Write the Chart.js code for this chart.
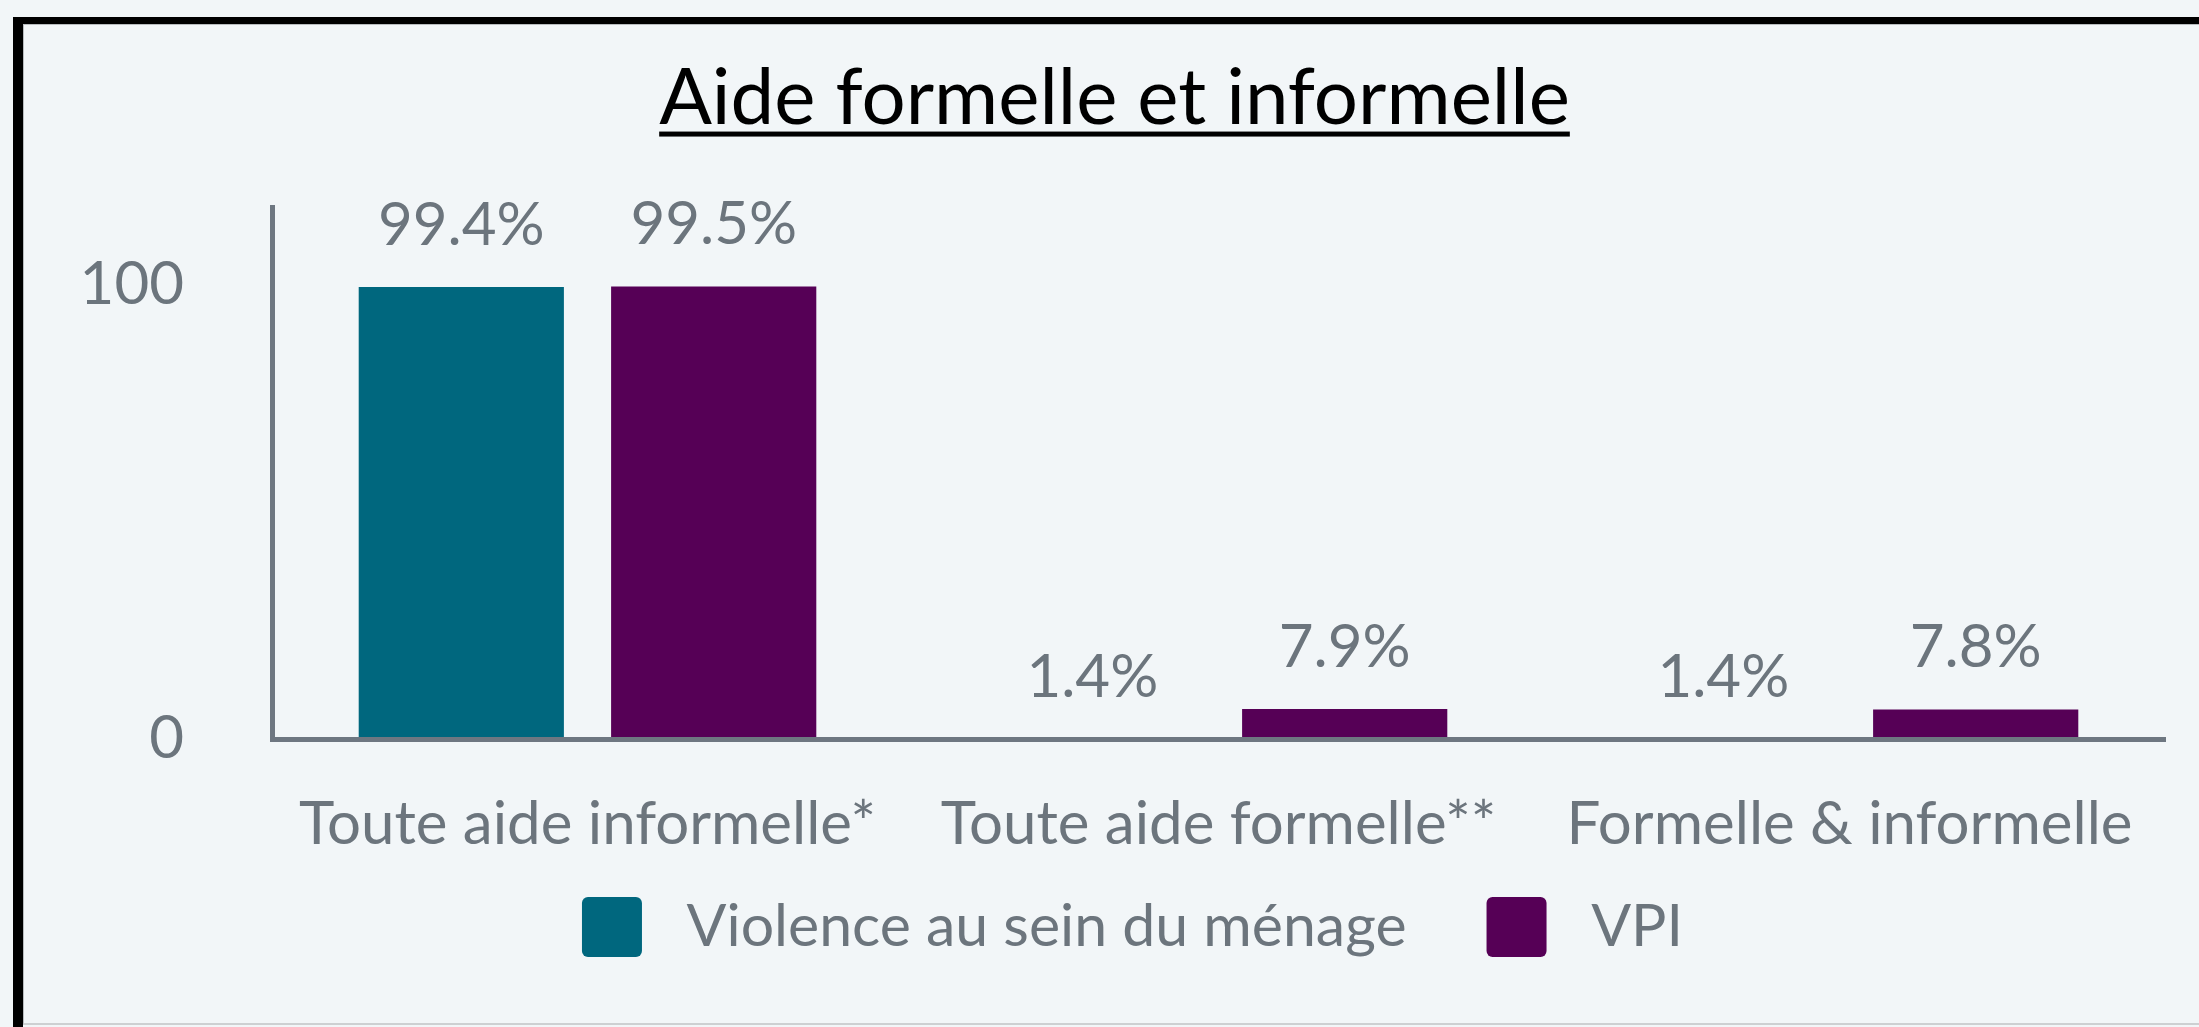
<!DOCTYPE html>
<html>
<head>
<meta charset="utf-8">
<title>Aide formelle et informelle</title>
<script src="https://cdn.jsdelivr.net/npm/chart.js@4.4.1/dist/chart.umd.min.js"></script>
<style>
  html, body { margin: 0; padding: 0; background: #f2f6f8; overflow: hidden; }
  #frame { position: absolute; left: 13px; top: 17px; width: 2400px; height: 1100px;
           border-left: 10px solid #000; border-top: 7px solid #000; }
  #panel { position: absolute; left: 0; top: 0; width: 2400px; height: 998px;
           border-top: 1px solid #b8bcbf; border-left: 1px solid #b8bcbf; border-bottom: 2px solid #cdd0d2; }
  #chart { position: absolute; left: 0; top: 0; }
</style>
</head>
<body>
<div id="frame"><div id="panel"><canvas id="chart" width="2175" height="998"></canvas></div></div>
<script>
// data
const categories = ['Toute aide informelle*', 'Toute aide formelle**', 'Formelle & informelle'];
const seriesNames = ['Violence au sein du ménage', 'VPI'];
const menage = [99.4, 1.4, 1.4];
const vpi = [99.5, 7.9, 7.8];
// the value axis in the source starts at 1.4 (the 1.4% bars have no height), labelled "0"
const yTickValues = [1.4, 100];
const yTickLabels = ['0', '100'];
const Y_MIN = 1.4;
const Y_MAX = 116.6;

const TEAL = '#00677e';
const PURPLE = '#560056';
const GREY = '#6c757d';
const AXIS = '#6e7781';
const FS = 60;

Chart.defaults.font.family = 'Lato';
Chart.defaults.color = GREY;

// value labels above each bar
const barLabels = {
  id: 'barLabels',
  afterDatasetsDraw(chart) {
    const ctx = chart.ctx;
    ctx.save();
    ctx.font = FS + 'px Lato';
    ctx.fillStyle = GREY;
    ctx.textAlign = 'center';
    ctx.textBaseline = 'alphabetic';
    chart.data.datasets.forEach((ds, i) => {
      chart.getDatasetMeta(i).data.forEach((bar, j) => {
        ctx.fillText(ds.data[j].toFixed(1) + '%', bar.x, bar.y - 42);
      });
    });
    ctx.restore();
  }
};

// underline the title
const titleUnderline = {
  id: 'titleUnderline',
  afterDraw(chart) {
    const t = chart.titleBlock;
    const o = chart.options.plugins.title;
    const ctx = chart.ctx;
    ctx.save();
    ctx.font = o.font.size + 'px ' + o.font.family;
    const w = ctx.measureText(o.text).width;
    const cx = (t.left + t.right) / 2;
    const mid = t.top + o.padding.top + o.font.size * 1.2 / 2;
    ctx.fillStyle = '#000';
    ctx.fillRect(cx - w / 2, mid + o.font.size * 0.42, w, 5);
    ctx.restore();
  }
};

// shift title and legend a little, as in the reference
const nudge = {
  id: 'nudge',
  afterLayout(chart) {
    const lg = chart.legend;
    lg.top -= 86; lg.bottom -= 86;
    lg.left += 38; lg.right += 38;
    const t = chart.titleBlock;
    t.left += 20; t.right += 20;
  }
};

new Chart(document.getElementById('chart'), {
  type: 'bar',
  data: {
    labels: categories,
    datasets: [{
      label: seriesNames[0],
      data: menage,
      backgroundColor: TEAL,
      borderWidth: 0
    }, {
      label: seriesNames[1],
      data: vpi,
      backgroundColor: PURPLE,
      borderWidth: 0
    }]
  },
  options: {
    responsive: false,
    animation: false,
    categoryPercentage: 0.8,
    barPercentage: 0.813,
    layout: { padding: { left: 0, right: 34, top: 0, bottom: -30 } },
    scales: {
      x: {
        grid: { display: false },
        border: { display: true, color: AXIS, width: 5, z: 1 },
        ticks: { font: { size: FS }, color: GREY, padding: 42, maxRotation: 0, autoSkip: false }
      },
      y: {
        min: Y_MIN,
        max: Y_MAX,
        grid: { display: false },
        border: { display: true, color: AXIS, width: 5 },
        afterBuildTicks(scale) { scale.ticks = yTickValues.map(v => ({ value: v })); },
        ticks: {
          font: { size: FS },
          color: GREY,
          padding: 80,
          callback: (v, i) => yTickLabels[i]
        },
        afterFit(scale) { scale.width = 248; }
      }
    },
    plugins: {
      title: {
        display: true,
        text: 'Aide formelle et informelle',
        color: '#000',
        font: { family: 'Lato', size: 78, weight: 'normal' },
        padding: { top: 27, bottom: 62 }
      },
      legend: {
        position: 'bottom',
        labels: {
          font: { size: 59 },
          color: GREY,
          boxWidth: 60,
          boxHeight: 60,
          useBorderRadius: true,
          borderRadius: 6,
          padding: 80,
          generateLabels(chart) {
            return Chart.defaults.plugins.legend.labels.generateLabels(chart)
              .map(l => Object.assign(l, { text: ' ' + l.text }));
          }
        }
      },
      tooltip: { enabled: false }
    }
  },
  plugins: [barLabels, titleUnderline, nudge]
});
</script>
</body>
</html>
